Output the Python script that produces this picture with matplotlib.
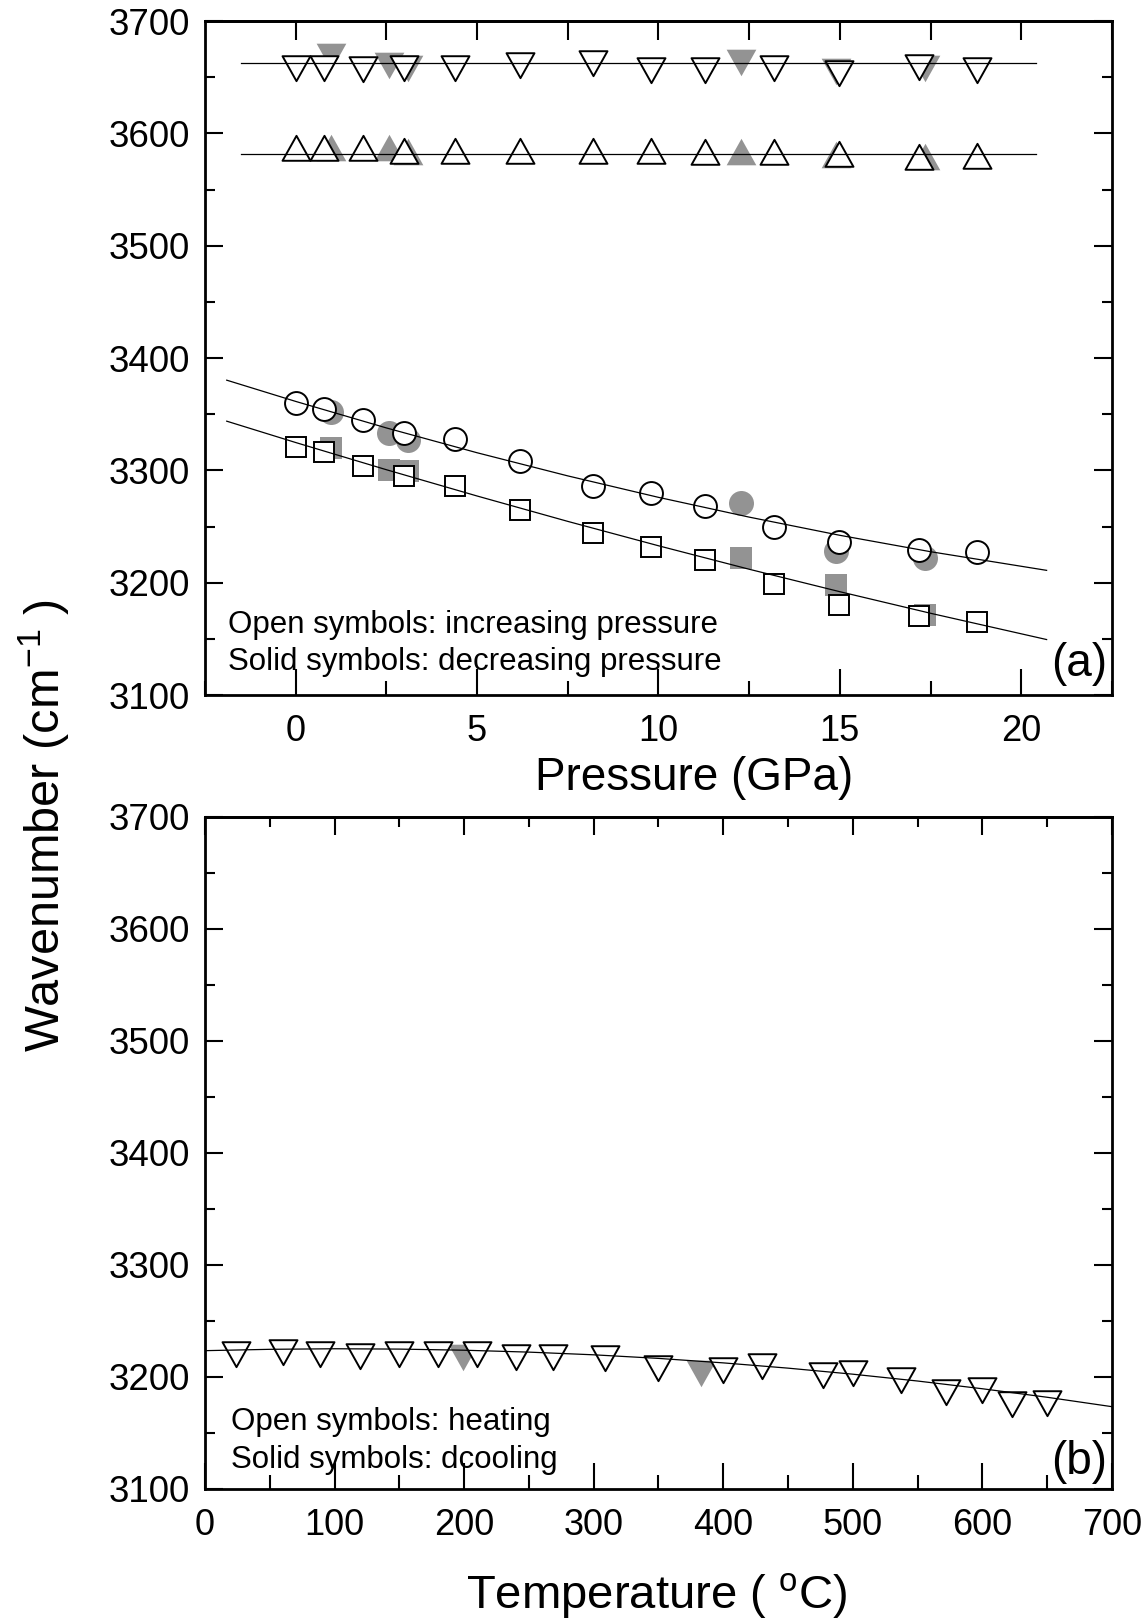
import numpy as np
import matplotlib
matplotlib.use("Agg")
import matplotlib.pyplot as plt
from matplotlib.path import Path
from matplotlib.ticker import MultipleLocator

plt.rcParams['font.family'] = ['Liberation Sans', 'DejaVu Sans']
plt.rcParams['mathtext.default'] = 'regular'

# ---- panel (a): pressure run ----
pressure_inc = [0.0, 0.77, 1.87, 2.98, 4.38, 6.19, 8.19, 9.79, 11.28, 13.19, 14.97, 17.17, 18.77]
pressure_dec = [0.97, 2.58, 3.11, 12.28, 14.89, 17.36]

band1_inc = [3662, 3662, 3661, 3662, 3662, 3664, 3666, 3660, 3660, 3662, 3657, 3663, 3660]
band1_dec = [3672, 3664, 3662, 3667, 3659, 3662]
band2_inc = [3583, 3583, 3583, 3581, 3581, 3581, 3581, 3581, 3580, 3580, 3578, 3575, 3576]
band2_dec = [3583, 3583, 3580, 3580, 3577, 3575]
band3_inc = [3360, 3355, 3345, 3333, 3328, 3308, 3286, 3280, 3268, 3250, 3236, 3229, 3227]
band3_dec = [3352, 3333, 3327, 3271, 3228, 3222]
band4_inc = [3321, 3316, 3304, 3295, 3286, 3265, 3244, 3232, 3220, 3199, 3180, 3170, 3165]
band4_dec = [3320, 3300, 3299, 3222, 3198, 3171]

# fitted curves
flat_fit_p = [-1.5, 20.4]
band1_fit = [3662.3, 3662.3]
band2_fit = [3581.4, 3581.4]
curve_fit_p = [-1.9, 0, 2.5, 5, 7.5, 10, 12.5, 15, 17.5, 20.7]
band3_fit = [3380.3, 3361.4, 3337.8, 3315.7, 3295.1, 3276.0, 3258.4, 3242.2, 3227.6, 3211.0]
band4_fit = [3343.8, 3324.8, 3300.6, 3277.2, 3254.6, 3232.9, 3212.0, 3192.0, 3172.8, 3149.4]

# ---- panel (b): temperature run ----
temp_heat = [24, 60, 89, 120, 150, 180, 210, 240, 269, 309, 350, 400, 430, 477, 500, 537, 572, 600, 623, 650]
wn_heat = [3224.5, 3225.7, 3224.5, 3222.7, 3224.5, 3224.5, 3224.5, 3221.5, 3221.3, 3220.5,
           3211.2, 3209.9, 3213.8, 3205.4, 3206.9, 3200.8, 3190.3, 3191.8, 3179.7, 3180.6]
temp_cool = [199, 383]
wn_cool = [3221.8, 3207.5]

temp_fit = [0, 50, 100, 150, 200, 250, 300, 350, 400, 450, 500, 550, 600, 650, 700]
wn_fit = [3223.5, 3224.7, 3225.2, 3224.9, 3223.9, 3222.2, 3219.8, 3216.6, 3212.6, 3207.9,
          3202.5, 3196.4, 3189.5, 3181.9, 3173.5]

# triangles centred on their centroid, like the original plotting program
tri_up = Path([(-14, -8.3), (14, -8.3), (0, 16.7), (-14, -8.3)], closed=True)
tri_down = Path([(-14, 8.3), (14, 8.3), (0, -16.7), (-14, 8.3)], closed=True)

GRAY = '#939393'
open_kw = dict(linestyle='none', markerfacecolor='white', markeredgecolor='black',
               markeredgewidth=1.4, zorder=3)
solid_kw = dict(linestyle='none', color=GRAY, markeredgewidth=0, zorder=2)
line_kw = dict(color='black', linewidth=0.9, zorder=4)

fig = plt.figure(figsize=(11.45, 16.19), dpi=100)
ax1 = fig.add_axes([0.1790, 0.5707, 0.7921, 0.4163])
ax2 = fig.add_axes([0.1790, 0.0803, 0.7921, 0.4151])

# panel a
ax1.plot(pressure_dec, band1_dec, marker=tri_down, markersize=25.5, **solid_kw)
ax1.plot(pressure_dec, band2_dec, marker=tri_up, markersize=25.5, **solid_kw)
ax1.plot(pressure_dec, band3_dec, marker='o', markersize=18, **solid_kw)
ax1.plot(pressure_dec, band4_dec, marker='s', markersize=15.8, **solid_kw)

ax1.plot(pressure_inc, band1_inc, marker=tri_down, markersize=24, **open_kw)
ax1.plot(pressure_inc, band2_inc, marker=tri_up, markersize=24, **open_kw)
ax1.plot(pressure_inc, band3_inc, marker='o', markersize=16.5, **open_kw)
ax1.plot(pressure_inc, band4_inc, marker='s', markersize=14.4, **open_kw)

ax1.plot(flat_fit_p, band1_fit, **line_kw)
ax1.plot(flat_fit_p, band2_fit, **line_kw)
ax1.plot(curve_fit_p, band3_fit, **line_kw)
ax1.plot(curve_fit_p, band4_fit, **line_kw)

ax1.set_xlim(-2.5, 22.5)
ax1.set_ylim(3100, 3700)
ax1.xaxis.set_major_locator(MultipleLocator(5))
ax1.xaxis.set_minor_locator(MultipleLocator(2.5))

ax1.text(0.025, 0.104, 'Open symbols: increasing pressure', transform=ax1.transAxes,
         fontsize=22.5, va='center', ha='left')
ax1.text(0.025, 0.049, 'Solid symbols: decreasing pressure', transform=ax1.transAxes,
         fontsize=22.5, va='center', ha='left')
ax1.text(0.995, 0.046, '(a)', transform=ax1.transAxes, fontsize=33, va='center', ha='right')

# panel b
ax2.plot(temp_cool, wn_cool, marker=tri_down, markersize=25.5, **solid_kw)
ax2.plot(temp_heat, wn_heat, marker=tri_down, markersize=24, **open_kw)
ax2.plot(temp_fit, wn_fit, **line_kw)

ax2.set_xlim(0, 700)
ax2.set_ylim(3100, 3700)
ax2.xaxis.set_major_locator(MultipleLocator(100))
ax2.xaxis.set_minor_locator(MultipleLocator(50))

ax2.text(0.029, 0.100, 'Open symbols: heating', transform=ax2.transAxes,
         fontsize=22.5, va='center', ha='left')
ax2.text(0.029, 0.043, 'Solid symbols: dcooling', transform=ax2.transAxes,
         fontsize=22.5, va='center', ha='left')
ax2.text(0.995, 0.040, '(b)', transform=ax2.transAxes, fontsize=33, va='center', ha='right')

for ax in (ax1, ax2):
    for sp in ax.spines.values():
        sp.set_linewidth(2)
    ax.yaxis.set_major_locator(MultipleLocator(100))
    ax.yaxis.set_minor_locator(MultipleLocator(50))
    ax.tick_params(axis='y', which='both', direction='in', left=True, right=True,
                   width=1.5, labelsize=26.5, pad=11)
    ax.tick_params(axis='y', which='major', length=13)
    ax.tick_params(axis='y', which='minor', length=7)
    ax.tick_params(axis='x', which='both', direction='in', bottom=True, top=False,
                   width=1.5, labelsize=26, pad=14)
    ax.tick_params(axis='x', which='major', length=19)
    ax.tick_params(axis='x', which='minor', length=10)

# top ticks: every 2.5 GPa all the same length on (a), major/minor on (b)
top1 = ax1.secondary_xaxis('top')
top1.set_xticks(np.arange(0, 22.6, 2.5))
top1.tick_params(direction='in', length=14, width=1.5, labeltop=False)
top1.spines['top'].set_linewidth(2)

top2 = ax2.secondary_xaxis('top')
top2.xaxis.set_major_locator(MultipleLocator(100))
top2.xaxis.set_minor_locator(MultipleLocator(50))
top2.tick_params(which='major', direction='in', length=13, width=1.5, labeltop=False)
top2.tick_params(which='minor', direction='in', length=7, width=1.5)
top2.spines['top'].set_linewidth(2)

fig.text(694 / 1145, 1 - 778 / 1619, 'Pressure (GPa)', fontsize=33, ha='center', va='center')
fig.text(657 / 1145, 1 - 1596 / 1619, r'Temperature ( $^{o}$C)', fontsize=34,
         ha='center', va='center')
fig.text(44 / 1145, 1 - 826 / 1619, r'Wavenumber (cm$^{ -1}$ )', fontsize=35,
         rotation=90, ha='center', va='center')

fig.savefig('out.png', dpi=100)
